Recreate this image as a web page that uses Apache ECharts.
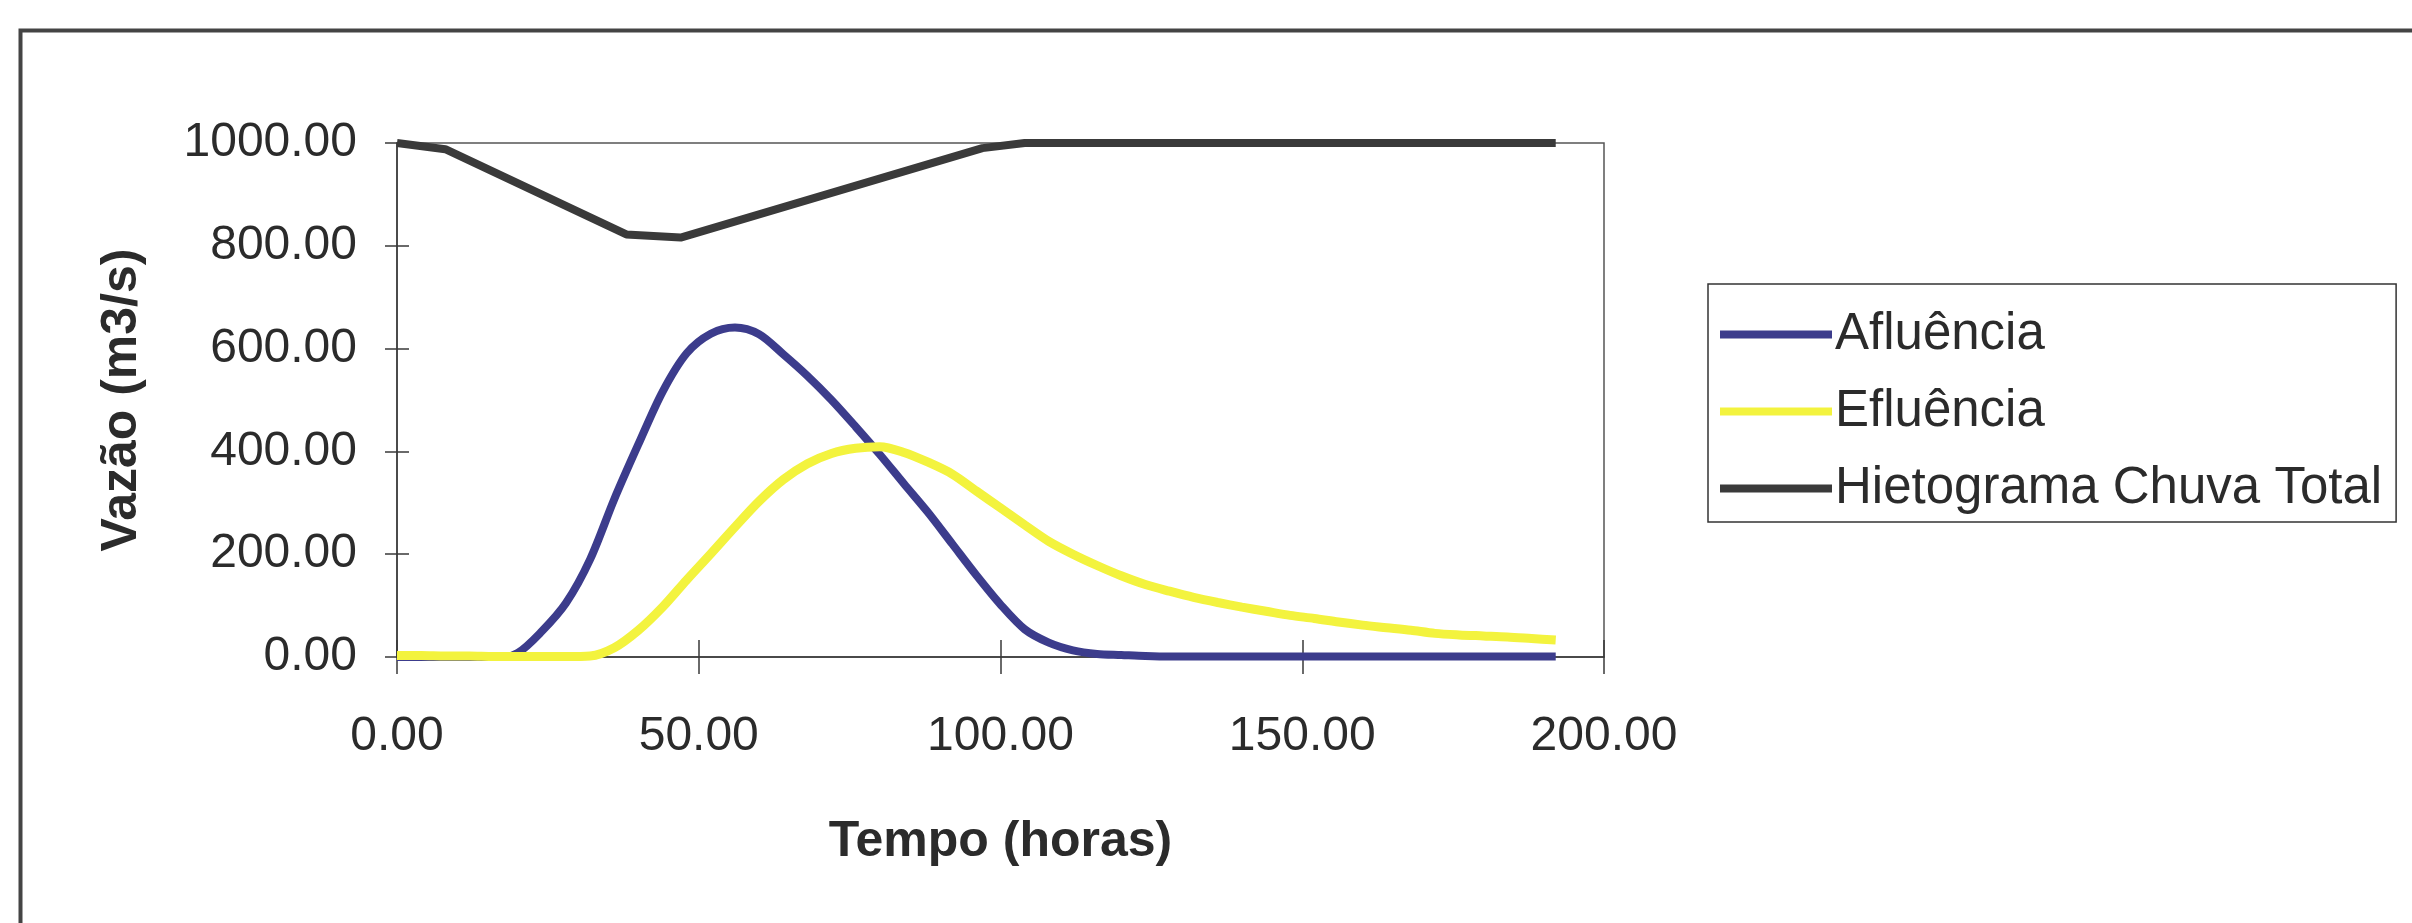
<!DOCTYPE html>
<html><head><meta charset="utf-8">
<script src="https://cdn.jsdelivr.net/npm/echarts@6/dist/echarts.min.js"></script>
<style>html,body{margin:0;padding:0;background:#fff}#c{width:2412px;height:923px}</style>
</head><body><div id="c"></div>
<script>
// ---- data ----
const horas = [0,4,8,12,16,20,24,28,32,36,40,44,48,52,56,60,64,68,72,76,80,84,88,92,96,100,104,108,112,116,120,124,128,132,136,140,144,148,152,156,160,164,168,172,176,180,184,188,192];
const afluencia = [0,0,-2,-5,-4,8,50,105,190,307,414,516,591,629,641,628,589,547,500,448,394,337,281,220,159,102,54,28,13,6,4,2,1,1,1,1,1,1,1,1,1,1,1,1,1,1,1,1,1];
const efluencia = [3,3,2,2,1,1,1,1,2,18,52,97,150,201,253,303,345,376,396,406,409,398,379,356,323,290,257,225,200,178,158,141,128,116,106,97,89,81,75,68,62,57,52,46,43,41,39,36,33];
const hietoHoras = [0,8,38,47,97,104,192];
const hietograma = [1000,988,822,816,990,1000,1000];
const serieNomes = ['Afluência','Efluência','Hietograma Chuva Total'];
const xTitulo = 'Tempo (horas)';
const yTitulo = 'Vazão (m3/s)';

const pair = (xs, ys) => xs.map((x, i) => [x, ys[i]]);
const FONT = '"Liberation Sans", Arial, sans-serif';
const TXT = '#2b2b2b';
const AX = '#3a3a3a';
const fmt = v => v.toFixed(2);

const chart = echarts.init(document.getElementById('c'));
chart.setOption({
  animation: false,
  backgroundColor: '#ffffff',
  textStyle: { fontFamily: FONT },
  graphic: [{
    type: 'rect', left: 18, top: 28, silent: true,
    shape: { width: 2600, height: 1000 },
    style: { fill: 'none', stroke: '#444', lineWidth: 4 }
  }],
  grid: { left: 397, top: 143, right: 808, bottom: 266, show: true, borderColor: '#555', borderWidth: 1.5, backgroundColor: 'transparent' },
  legend: {
    orient: 'vertical', left: 1708, top: 284,
    padding: [25, 14, 8, 12],
    itemWidth: 112, itemHeight: 8, itemGap: 26,
    icon: 'rect',
    backgroundColor: '#fff', borderColor: '#333', borderWidth: 1.5,
    textStyle: { fontSize: 51, color: TXT, fontFamily: FONT, padding: [0, 0, 0, -2] },
    data: serieNomes
  },
  xAxis: [{
    type: 'value', min: 0, max: 200, interval: 50,
    name: xTitulo, nameLocation: 'middle', nameGap: 160,
    nameTextStyle: { fontSize: 50, fontWeight: 'bold', color: TXT, fontFamily: FONT },
    axisLine: { onZero: false, lineStyle: { color: AX, width: 1.5 } },
    axisTick: { length: 17, lineStyle: { color: AX, width: 1.5 } },
    axisLabel: { formatter: fmt, fontSize: 48, color: TXT, margin: 56, fontFamily: FONT },
    splitLine: { show: false }
  }, {
    type: 'value', min: 0, max: 200, interval: 50, position: 'top', offset: -514,
    axisLine: { show: false, onZero: false },
    axisTick: { length: 17, lineStyle: { color: AX, width: 1.5 } },
    axisLabel: { show: false }, splitLine: { show: false }
  }],
  yAxis: [{
    type: 'value', min: 0, max: 1000, interval: 200,
    name: yTitulo, nameLocation: 'middle', nameGap: 250,
    nameTextStyle: { fontSize: 50, fontWeight: 'bold', color: TXT, fontFamily: FONT },
    axisLine: { show: true, onZero: false, lineStyle: { color: AX, width: 1.5 } },
    axisTick: { show: true, length: 12, lineStyle: { color: AX, width: 1.5 } },
    axisLabel: { formatter: fmt, fontSize: 48, color: TXT, margin: 40, fontFamily: FONT },
    splitLine: { show: false }
  }, {
    type: 'value', min: 0, max: 1000, interval: 200, position: 'right', offset: -1207,
    axisLine: { show: false, onZero: false },
    axisTick: { show: true, length: 12, lineStyle: { color: AX, width: 1.5 } },
    axisLabel: { show: false }, splitLine: { show: false }
  }],
  series: [
    { name: serieNomes[0], type: 'line', data: pair(horas, afluencia), showSymbol: false, smooth: 0.3, z: 3,
      lineStyle: { color: '#3c3c8c', width: 8 }, itemStyle: { color: '#3c3c8c' } },
    { name: serieNomes[1], type: 'line', data: pair(horas, efluencia), showSymbol: false, smooth: 0.3, z: 4,
      lineStyle: { color: '#f3f33e', width: 9 }, itemStyle: { color: '#f3f33e' } },
    { name: serieNomes[2], type: 'line', data: pair(hietoHoras, hietograma), showSymbol: false, z: 2,
      lineStyle: { color: '#3a3a3a', width: 8 }, itemStyle: { color: '#3a3a3a' } }
  ]
});
</script></body></html>
